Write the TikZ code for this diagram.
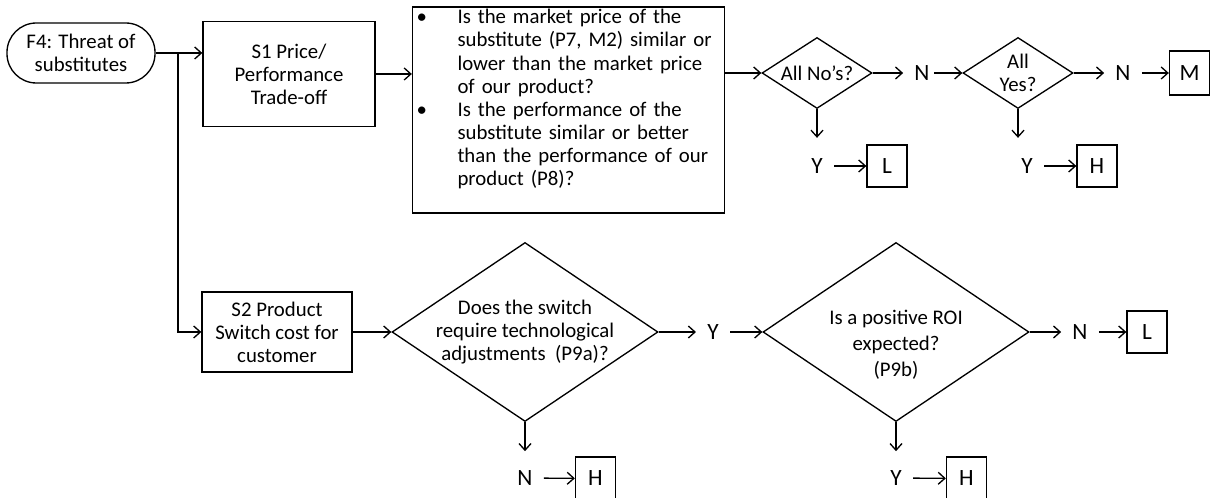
\documentclass[tikz,border=0pt]{standalone}
\usepackage{fontspec}
\setmainfont{Carlito}
\usetikzlibrary{positioning,shapes.geometric,arrows.meta}

\begin{document}
\begin{tikzpicture}[x = .75pt, y = -.75pt, line width = 1pt, >={Straight Barb[length=5pt,width=9pt]},
  txt/.style = {font = \fontsize{15.6}{17.3}\selectfont, align = center},
  pill/.style = {txt, draw, rounded corners = 22pt, minimum width = 111pt, minimum height = 45pt},
  procbox/.style = {txt, draw, inner sep = 2pt},
  decision/.style = {txt, draw, diamond, inner sep = 0pt},
  yn/.style = {font = \fontsize{17.5}{20}\selectfont, inner sep = 8pt},
  result/.style = {draw, font = \fontsize{17.5}{20}\selectfont, minimum width = 30pt, minimum height = 31.5pt, inner sep = 0pt}]
\useasboundingbox (0,0) rectangle (1210,498);

\node[pill] (f4) at (81,53) {F4: Threat of\\substitutes};
\node[procbox, minimum width = 129pt, minimum height = 78.75pt] (s1) at (289,74) {S1 Price/\\Performance\\Trade-off};
\node[procbox, align = left, text width = 228pt, inner xsep = 3pt, inner ysep = 0pt, minimum height = 154.5pt] (q1) at (568.5,110) {%
\begin{tabular}{@{}l@{\hspace{23pt}}l@{}}
\textbullet & Is the market price of the\\
 & substitute (P7, M2) similar or\\
 & lower than the market price\\
 & of our product?\\
\textbullet & Is the performance of the\\
 & substitute similar or better\\
 & than the performance of our\\
 & product (P8)?\\[15pt]
\end{tabular}};
\node[decision, aspect = 1.55, minimum width = 82.5pt, minimum height = 53.25pt] (d1) at (817,73) {All No's?};
\node[yn] (nA) at (922,73) {N};
\node[decision, aspect = 1.55, minimum width = 82.5pt, minimum height = 53.25pt] (d2) at (1018,73) {All\\Yes?};
\node[yn] (nB) at (1123,73) {N};
\node[result, minimum height = 33pt] (m) at (1189.5,73) {M};
\node[yn] (yA) at (817,166) {Y};
\node[result] (lA) at (887,166) {L};
\node[yn] (yB) at (1027,166) {Y};
\node[result] (hA) at (1097,166) {H};

\node[procbox, minimum width = 112.5pt, minimum height = 60pt] (s2) at (277,332) {S2 Product\\Switch cost for\\customer};
\node[decision, aspect = 1.486, inner sep = -1.5pt, minimum width = 199.5pt, minimum height = 134.25pt] (d3) at (525,332) {Does the switch\\require technological\\adjustments~ (P9a)?};
\node[yn] (yC) at (713,332) {Y};
\node[decision, aspect = 1.486, inner ysep = -5pt, font = \fontsize{15.6}{19.5}\selectfont, minimum width = 199.5pt, minimum height = 134.25pt] (d4) at (896,332) {\rule{0pt}{30pt}Is a positive ROI\\expected?\\(P9b)};
\node[yn] (nC) at (1080,332) {N};
\node[result] (lB) at (1147,332) {L};
\node[yn] (nD) at (525,478) {N};
\node[result, minimum height = 32.25pt] (hB) at (595.5,478.5) {H};
\node[yn] (yD) at (896,478) {Y};
\node[result, minimum height = 32.25pt] (hC) at (966.5,478.5) {H};

\coordinate (j) at (178,53);
\draw (f4.east) -- (j);
\draw[->] (j) -- (j -| s1.west);
\draw[->] (j) |- (s2.west);
\draw[->] (s1.east) -- (s1.east -| q1.west);
\draw[->] (d1.west -| q1.east) -- (d1.west);
\draw[->] (d1.east) -- (nA);
\draw[->, shorten <= -5pt] (nA) -- (d2.west);
\draw[->] (d2.east) -- (nB);
\draw[->] (nB) -- (m);
\draw[->, shorten >= 7pt] (d1.south) -- (d1.south |- yA.north);
\draw[->] (yA) -- (lA);
\draw[->, shorten >= 7pt] (d2.south) -- (d2.south |- yB.north);
\draw[->] (yB) -- (hA);

\draw[->] (s2.east) -- (d3.west);
\draw[->] (d3.east) -- (yC);
\draw[->] (yC) -- (d4.west);
\draw[->] (d4.east) -- (nC);
\draw[->] (nC) -- (lB);
\draw[->, shorten >= 6pt] (d3.south) -- (d3.south |- nD.north);
\draw[->] (nD) -- (hB);
\draw[->, shorten >= 6pt] (d4.south) -- (d4.south |- yD.north);
\draw[->] (yD) -- (hC);
\end{tikzpicture}
\end{document}
